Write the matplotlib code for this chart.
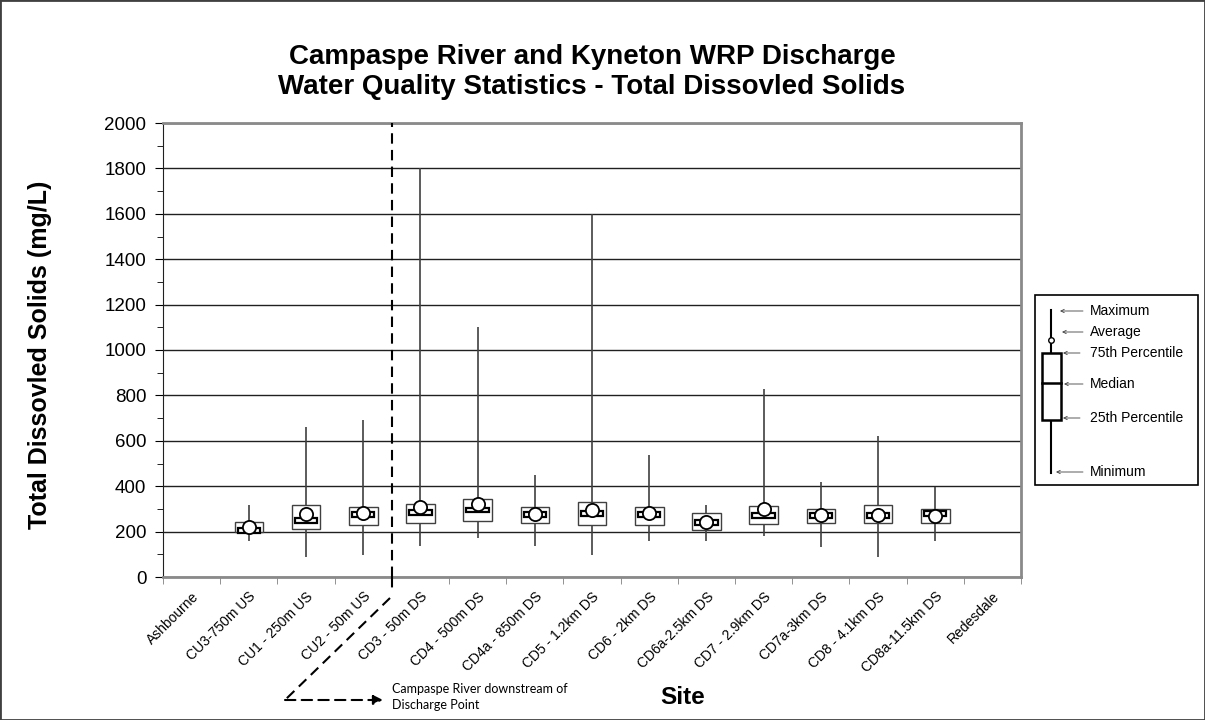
import numpy as np
import matplotlib
matplotlib.use("Agg")
import matplotlib.pyplot as plt
from matplotlib.patches import Rectangle

plt.rcParams['font.family'] = ['Liberation Sans', 'DejaVu Sans']

# sites along the river, upstream to downstream
sites = ['Ashbourne', 'CU3-750m US', 'CU1 - 250m US', 'CU2 - 50m US', 'CD3 - 50m DS',
         'CD4 - 500m DS', 'CD4a - 850m DS', 'CD5 - 1.2km DS', 'CD6 - 2km DS',
         'CD6a-2.5km DS', 'CD7 - 2.9km DS', 'CD7a-3km DS', 'CD8 - 4.1km DS',
         'CD8a-11.5km DS', 'Redesdale']
nan = np.nan
minimum = [nan, 160, 87, 96, 138, 170, 138, 96, 160, 160, 181, 131, 88, 160, nan]
pct25 = [nan, 197, 210, 228, 238, 248, 238, 228, 229, 208, 235, 238, 238, 238, nan]
median = [nan, 205, 248, 275, 283, 295, 276, 279, 276, 239, 270, 270, 270, 280, nan]
average = [nan, 219, 277, 283, 307, 322, 278, 295, 280, 242, 298, 272, 273, 269, nan]
pct75 = [nan, 241, 317, 310, 320, 345, 310, 329, 310, 280, 313, 300, 316, 298, nan]
maximum = [nan, 317, 661, 692, 1800, 1100, 448, 1600, 537, 317, 828, 418, 621, 398, nan]
discharge_after = 3  # index of last upstream site

W, H = 1205, 720
fig = plt.figure(figsize=(W / 100, H / 100), dpi=100)
ax = fig.add_axes([163 / W, 1 - 577 / H, (1021 - 163) / W, (577 - 123) / H])

x = np.arange(len(sites))
mn = np.array(minimum, float)
q1 = np.array(pct25, float)
md = np.array(median, float)
av = np.array(average, float)
q3 = np.array(pct75, float)
mx = np.array(maximum, float)

# whiskers, boxes, median bars and averages
ax.vlines(x, mn, mx, color='#404040', lw=1.2, zorder=2)
ax.bar(x, q3 - q1, bottom=q1, width=0.5, color='white', edgecolor='#404040', lw=1.0, zorder=3)
ax.bar(x, 20, bottom=md - 10, width=0.39, color='white', edgecolor='black', lw=1.6, zorder=4)
ax.plot(x, av, 'o', ms=9.5, mfc='white', mec='black', mew=1.3, zorder=5)

ax.axvline(discharge_after + 0.5, color='black', lw=1.5, ls=(0, (5, 3)), zorder=6)

ax.set_xlim(-0.5, len(sites) - 0.5)
ax.set_ylim(0, 2000)
ax.set_yticks(np.arange(0, 2001, 200))
ax.set_yticks(np.arange(0, 2001, 100), minor=True)
ax.yaxis.grid(True, which='major', color='#202020', lw=1.0)
ax.set_axisbelow(True)
ax.set_xticks(x)
ax.set_xticklabels(sites, rotation=45, ha='right', va='top', rotation_mode='anchor', fontsize=10)
ax.set_xticks(np.arange(-0.5, len(sites), 1), minor=True)
ax.tick_params(axis='x', which='major', length=0, pad=9)
ax.tick_params(axis='x', which='minor', length=5, color='#808080')
ax.tick_params(axis='y', which='major', length=6, labelsize=13.5, pad=6)
ax.tick_params(axis='y', which='minor', length=4)

ax.spines['left'].set_color('#202020')
for s in ['top', 'right', 'bottom']:
    ax.spines[s].set_color('#8a8a8a')
    ax.spines[s].set_linewidth(2)

fig.text(592 / W, 1 - 72 / H,
         'Campaspe River and Kyneton WRP Discharge\nWater Quality Statistics - Total Dissovled Solids',
         ha='center', va='center', fontsize=20, fontweight='bold', linespacing=1.2)
fig.text(40 / W, 1 - 355 / H, 'Total Dissovled Solids (mg/L)', rotation=90,
         ha='center', va='center', fontsize=18, fontweight='bold')
fig.text(683 / W, 1 - 698 / H, 'Site', ha='center', va='center', fontsize=17.5, fontweight='bold')

# overlay in pixel coords for the annotation arrow and the key
ov = fig.add_axes([0, 0, 1, 1])
ov.set_xlim(0, W)
ov.set_ylim(H, 0)
ov.axis('off')

ov.plot([392, 392], [577, 592], color='black', lw=1.5, ls=(0, (5, 3)))
ov.plot([390, 285], [598, 700], color='black', lw=1.5, ls=(0, (5, 3)))
ov.annotate('', xy=(383, 700), xytext=(285, 700),
            arrowprops=dict(arrowstyle='-|>', color='black', lw=1.5, ls=(0, (5, 3)),
                            mutation_scale=14, shrinkA=0, shrinkB=0))
ov.text(392, 697, 'Campaspe River downstream of\nDischarge Point', family='Lato',
        fontsize=9, ha='left', va='center', linespacing=1.35)

# key box
ov.add_patch(Rectangle((1035, 295), 163, 190, fc='white', ec='black', lw=1.2))
ov.plot([1051, 1051], [310, 473], color='black', lw=1.5)
ov.add_patch(Rectangle((1042, 353), 18.5, 67, fc='white', ec='black', lw=1.8, zorder=3))
ov.plot([1042, 1060.5], [383, 383], color='black', lw=1.8, zorder=4)
ov.plot([1051], [340], 'o', ms=4, mfc='white', mec='black', mew=1, zorder=5)
key = [('Maximum', 311, 1083, 1060), ('Average', 332, 1083, 1062),
       ('75th Percentile', 353, 1080, 1063), ('Median', 384, 1083, 1064),
       ('25th Percentile', 418, 1080, 1063), ('Minimum', 472, 1083, 1056)]
for lab, yy, x0, x1 in key:
    ov.annotate('', xy=(x1, yy), xytext=(x0, yy),
                arrowprops=dict(arrowstyle='->', color='#404040', lw=0.6,
                                mutation_scale=6, shrinkA=0, shrinkB=0))
    ov.text(1090, yy, lab, fontsize=10, ha='left', va='center')

fig.patches.append(Rectangle((0, 0), 1, 1, transform=fig.transFigure, fill=False,
                             ec='#404040', lw=2))

fig.savefig('out.png', dpi=100)
